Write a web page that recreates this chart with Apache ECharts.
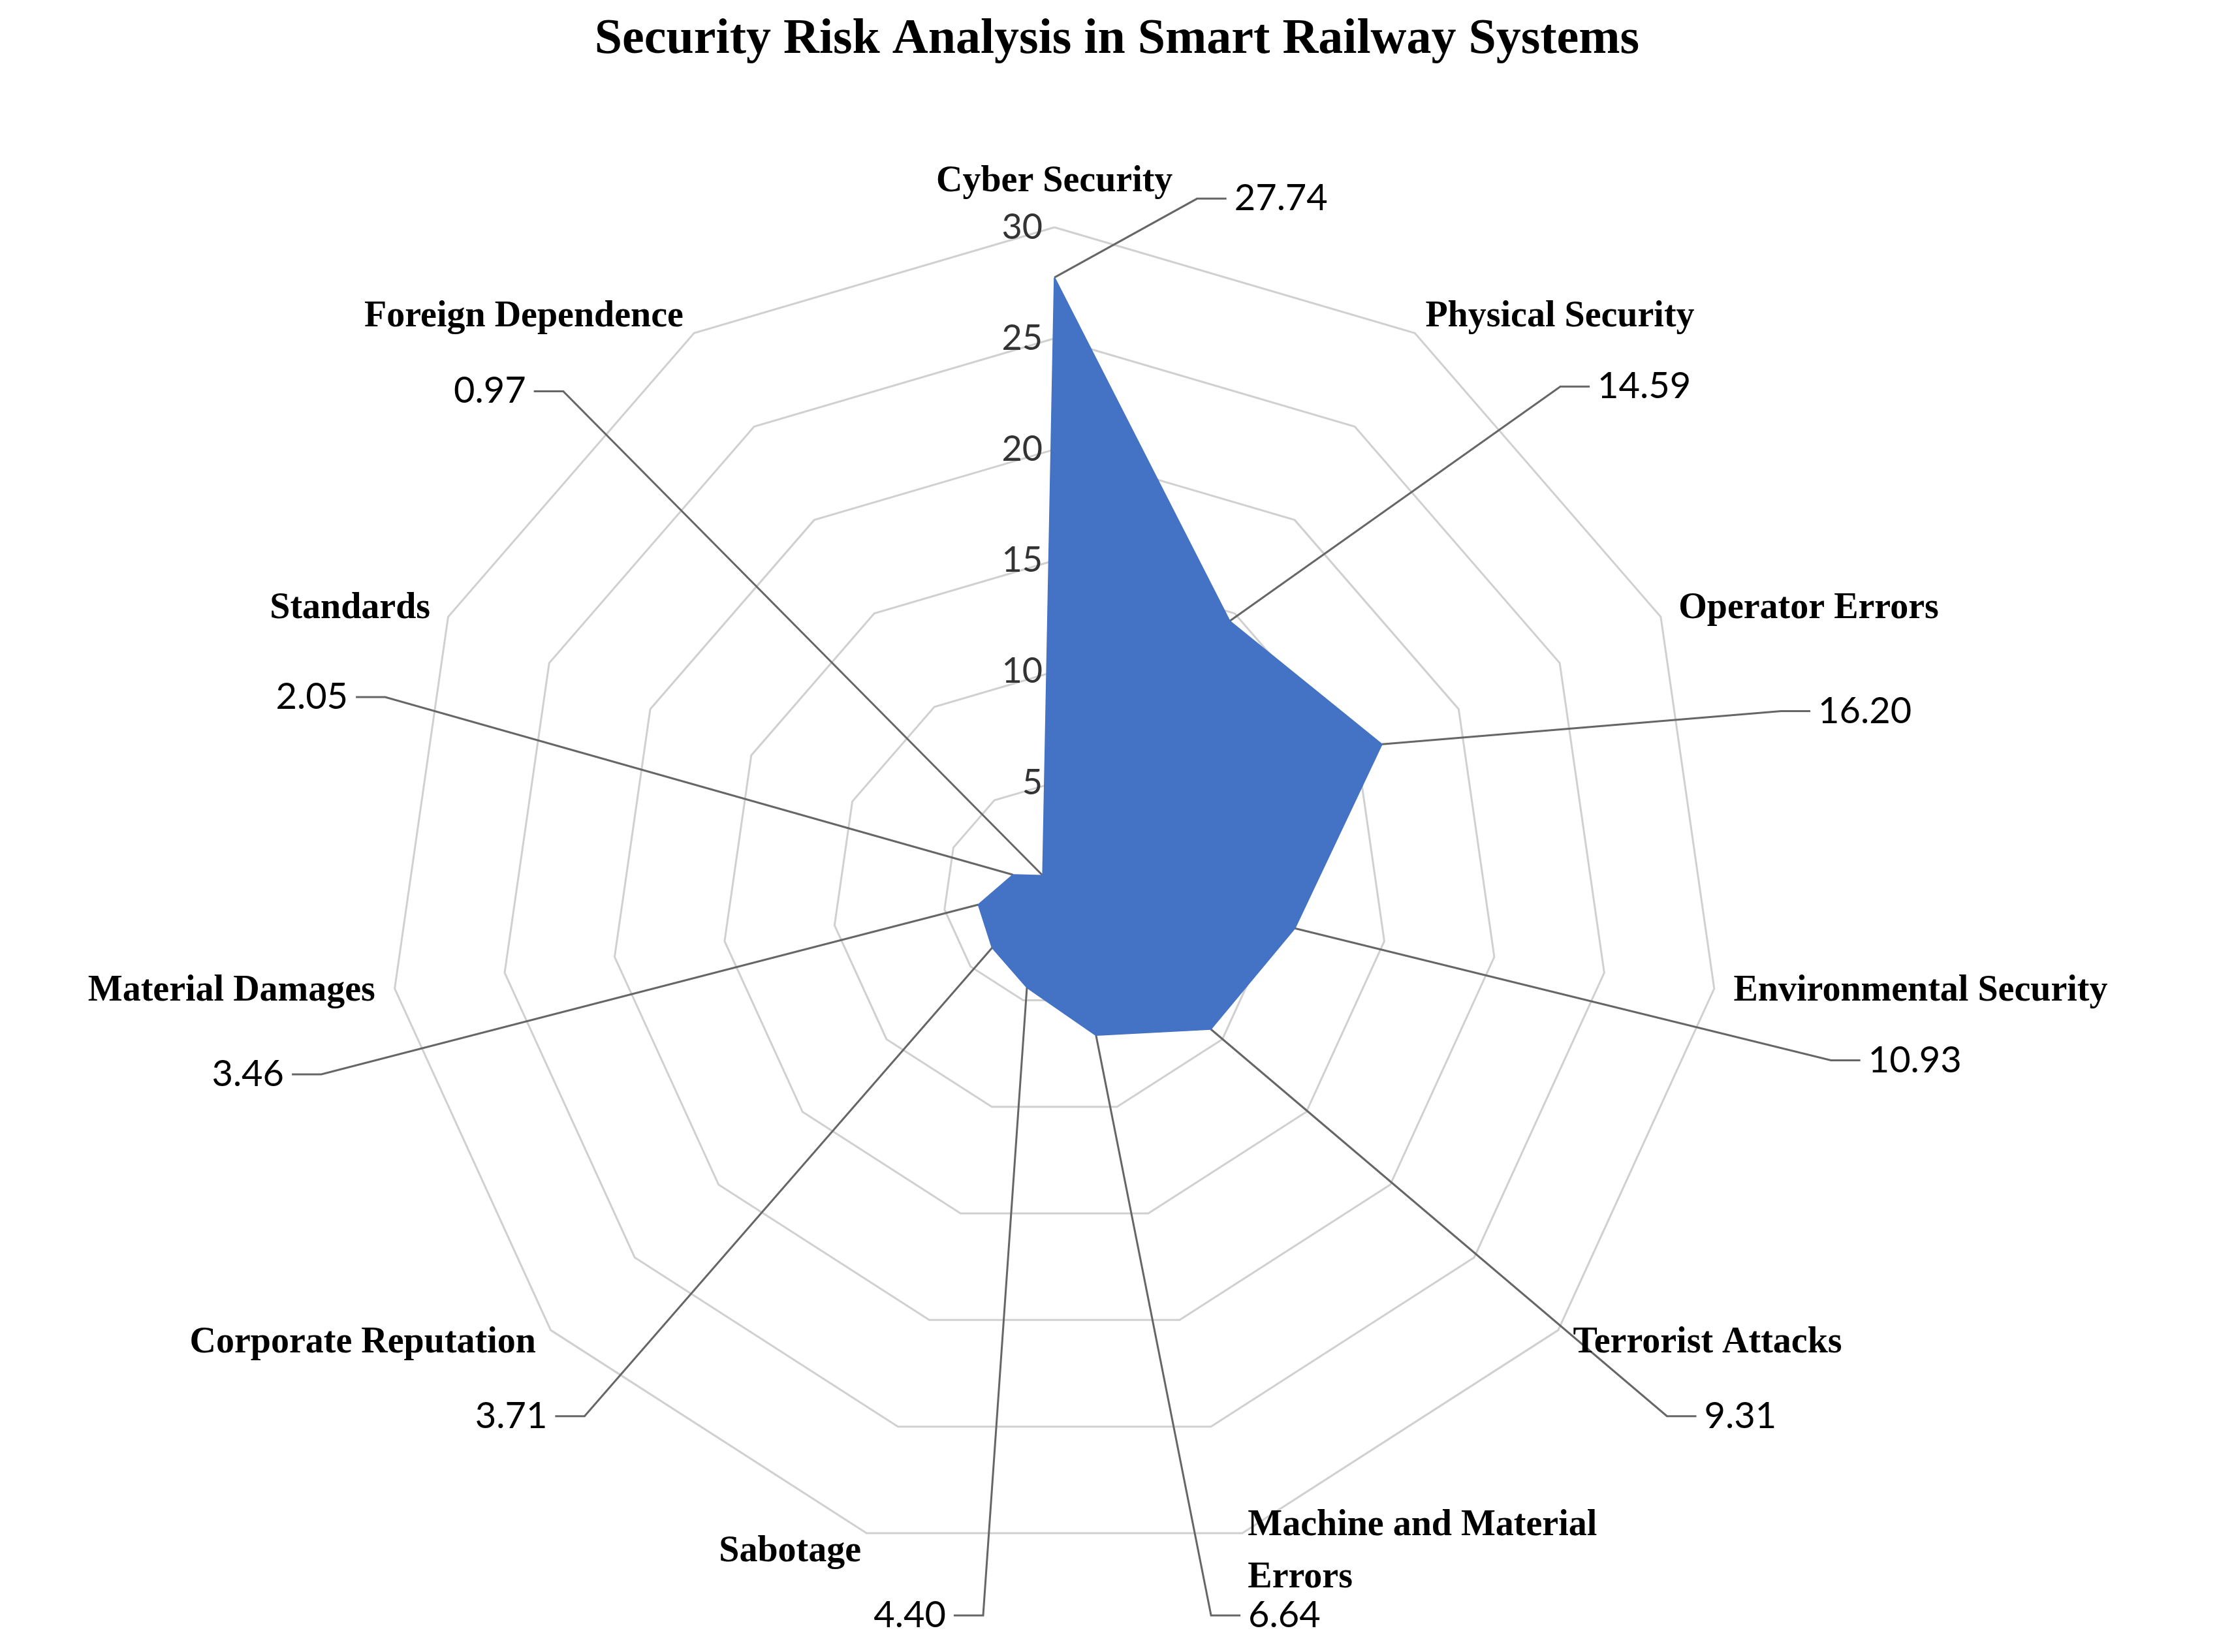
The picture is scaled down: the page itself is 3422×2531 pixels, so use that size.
<!DOCTYPE html>
<html>
<head>
<meta charset="utf-8">
<script src="https://cdn.jsdelivr.net/npm/echarts@6/dist/echarts.min.js"></script>
<style>html,body{margin:0;padding:0;background:#fff}#main{width:3422px;height:2531px}</style>
</head>
<body>
<div id="main"></div>
<script>
// risk categories, clockwise from top
var categories = ['Cyber Security','Physical Security','Operator Errors','Environmental Security','Terrorist Attacks','Machine and Material\nErrors','Sabotage','Corporate Reputation','Material Damages','Standards','Foreign Dependence'];
var values = [27.74,14.59,16.20,10.93,9.31,6.64,4.40,3.71,3.46,2.05,0.97];
var tickLabels = [0,5,10,15,20,25,30];
// leader line elbows, as fraction of radius from centre, and label side
var elbows = [[0.214,-1.043,'r'],[0.759,-0.761,'r'],[1.090,-0.274,'r'],[1.165,0.250,'r'],[0.919,0.784,'r'],[0.235,1.083,'r'],[-0.107,1.083,'l'],[-0.705,0.784,'l'],[-1.100,0.271,'l'],[-1.004,-0.295,'l'],[-0.737,-0.754,'l']];

// echarts radar runs counterclockwise, so flip the order after the first one
var order = [0];
for (var i = categories.length - 1; i > 0; i--) order.push(i);
var indicator = order.map(function(k){ return {name: categories[k], max: 30, min: 0}; });
var data = order.map(function(k){ return values[k]; });

var chart = echarts.init(document.getElementById('main'));
chart.setOption({
    animation: false,
    backgroundColor: '#fff',
    title: {
        text: 'Security Risk Analysis in Smart Railway Systems',
        left: 'center', top: 18,
        textStyle: {fontFamily: 'Liberation Serif', fontWeight: 'bold', fontSize: 76, color: '#000'}
    },
    radar: {
        center: ['47.2%', '54.1%'],
        radius: 1021,
        shape: 'polygon',
        splitNumber: 6,
        indicator: indicator,
        axisName: {color: '#000', fontFamily: 'Liberation Serif', fontWeight: 'bold', fontSize: 56, lineHeight: 80},
        nameGap: 30,
        axisLine: {show: false},
        axisTick: {show: false},
        axisLabel: {show: false},
        splitLine: {lineStyle: {color: '#d0d0d0', width: 3}},
        splitArea: {show: false}
    },
    series: [{
        type: 'radar',
        symbol: 'none',
        lineStyle: {color: '#4472C4', width: 2},
        areaStyle: {color: '#4472C4', opacity: 1},
        data: [{value: data}]
    }]
});

var cs = chart.getModel().getComponent('radar').coordinateSystem;
var R = cs.r, cx = cs.cx, cy = cs.cy;
var graphic = [];
tickLabels.forEach(function(t){
    var p = cs.dataToPoint(t, 0);
    graphic.push({type: 'text', x: p[0] - 18, y: p[1], silent: true,
        style: {text: String(t), fontFamily: 'Lato', fontSize: 54, fill: '#333', align: 'right', verticalAlign: 'middle'}});
});
for (var k = 0; k < categories.length; k++) {
    var idx = order.indexOf(k);
    var p = cs.dataToPoint(data[idx], idx);
    var e = elbows[k];
    var ex = cx + e[0] * R, ey = cy + e[1] * R;
    var hx = e[2] === 'r' ? ex + 45 : ex - 45;
    graphic.push({type: 'polyline', silent: true, shape: {points: [p, [ex, ey], [hx, ey]]},
        style: {stroke: '#666', lineWidth: 3, fill: null}});
    graphic.push({type: 'text', silent: true, x: e[2] === 'r' ? hx + 12 : hx - 12, y: ey,
        style: {text: values[k].toFixed(2), fontFamily: 'Lato', fontSize: 56, fill: '#000',
            align: e[2] === 'r' ? 'left' : 'right', verticalAlign: 'middle'}});
}
chart.setOption({graphic: graphic});
</script>
</body>
</html>
